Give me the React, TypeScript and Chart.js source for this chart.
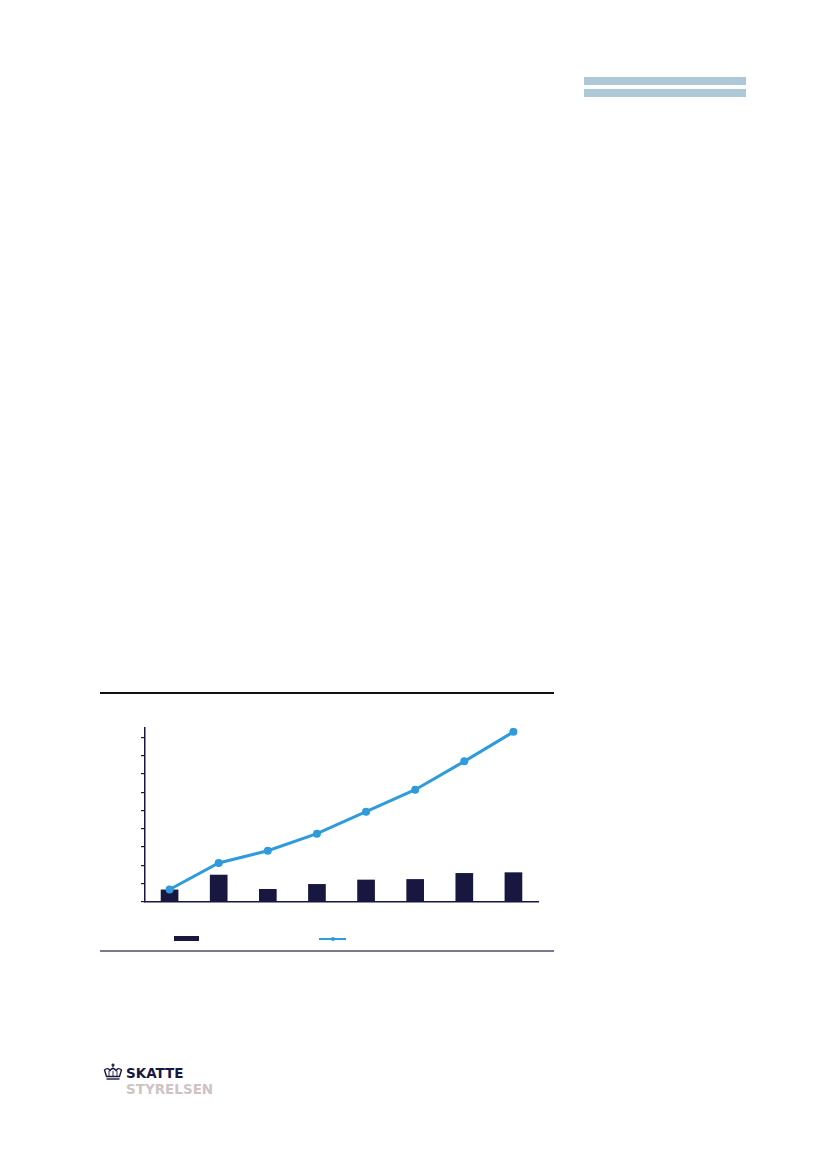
import React, { useEffect, useRef } from 'react';
import { Chart } from 'chart.js/auto';

// values (units of 100, tick labels not printed)
const categories = ['1', '2', '3', '4', '5', '6', '7', '8'];
const barValues = [68, 149, 71, 98, 122, 125, 158, 162];
const lineValues = [68, 213, 280, 373, 493, 613, 768, 929];
const yTicks = [0, 100, 200, 300, 400, 500, 600, 700, 800, 900];

const NAVY = '#17173f';
const BLUE = '#2f9bdc';

function ComboChart() {
    const chartRef = useRef<HTMLCanvasElement | null>(null);
    const chartInstance = useRef<Chart | null>(null);

    useEffect(() => {
        if (!chartRef.current) return;
        if (chartInstance.current) chartInstance.current.destroy();
        const ctx = chartRef.current.getContext('2d');
        if (!ctx) return;

        chartInstance.current = new Chart(ctx, {
            data: {
                labels: categories,
                datasets: [
                    {
                        type: 'line',
                        label: '',
                        data: lineValues,
                        borderColor: BLUE,
                        backgroundColor: BLUE,
                        borderWidth: 3,
                        pointRadius: 4,
                        pointBackgroundColor: BLUE,
                        pointBorderWidth: 0,
                        tension: 0,
                        order: 0,
                    },
                    {
                        type: 'bar',
                        label: '',
                        data: barValues,
                        backgroundColor: NAVY,
                        barPercentage: 0.36,
                        categoryPercentage: 1,
                        order: 1,
                    },
                ],
            },
            options: {
                animation: false,
                responsive: false,
                maintainAspectRatio: false,
                layout: { padding: { left: 41, right: 16, top: 35, bottom: 48 } },
                plugins: { legend: { display: false }, tooltip: { enabled: false } },
                scales: {
                    x: {
                        grid: { display: false, drawTicks: false },
                        border: { display: true, color: NAVY, width: 1.5 },
                        ticks: { display: false },
                    },
                    y: {
                        min: 0,
                        max: 950,
                        afterBuildTicks: (scale: any) => {
                            scale.ticks = yTicks.map(v => ({ value: v }));
                        },
                        grid: { drawOnChartArea: false, tickLength: 4, color: NAVY, lineWidth: 1.2 },
                        border: { display: true, color: NAVY, width: 1.5 },
                        ticks: { display: false },
                    },
                },
            },
        });

        return () => {
            if (chartInstance.current) {
                chartInstance.current.destroy();
                chartInstance.current = null;
            }
        };
    }, []);

    return <canvas ref={chartRef} width={454} height={257} style={{ width: 454, height: 257 }} />;
}

function Crown() {
    return (
        <svg width="20" height="18" viewBox="0 0 20 18">
            <g fill="none" stroke={NAVY} strokeWidth="1.4">
                <path d="M1.5 7 Q4.5 4 7 7.5 Q10 3.5 13 7.5 Q15.5 4 18.5 7 L16.5 13.5 H3.5 Z" />
                <path d="M6 8 V13 M10 8 V13 M14 8 V13" strokeWidth="0.9" />
                <path d="M3.5 16 H16.5" />
                <path d="M10 0.5 V4.5 M8.5 2 H11.5" />
            </g>
        </svg>
    );
}

export default function App() {
    return (
        <div style={{ position: 'absolute', left: 0, top: 0, width: 827, height: 1169, background: '#fff' }}>
            <div style={{ position: 'absolute', left: 584, top: 77, width: 162, height: 8, background: '#adc9d8' }} />
            <div style={{ position: 'absolute', left: 584, top: 89, width: 162, height: 8, background: '#adc9d8' }} />

            <div style={{ position: 'absolute', left: 100, top: 692, width: 454, height: 1.5, background: '#111' }} />
            <div style={{ position: 'absolute', left: 100, top: 693 }}>
                <ComboChart />
            </div>
            {/* legend swatches */}
            <div style={{ position: 'absolute', left: 174, top: 936, width: 25, height: 5, background: NAVY }} />
            <div style={{ position: 'absolute', left: 319, top: 937.5, width: 27, height: 2.5, background: BLUE }} />
            <div style={{ position: 'absolute', left: 330.5, top: 936.5, width: 4, height: 4, borderRadius: 2, background: BLUE }} />
            <div style={{ position: 'absolute', left: 100, top: 950, width: 454, height: 2, background: '#7a7a8c' }} />

            <div style={{ position: 'absolute', left: 103, top: 1063 }}>
                <Crown />
            </div>
            <div style={{ position: 'absolute', left: 126, top: 1066, fontFamily: '"DejaVu Sans", sans-serif', fontWeight: 700, fontSize: 13.5, lineHeight: '14px', letterSpacing: 0 }}>
                <div style={{ color: NAVY }}>SKATTE</div>
                <div style={{ color: '#cfc3c3', marginTop: 2 }}>STYRELSEN</div>
            </div>
        </div>
    );
}
